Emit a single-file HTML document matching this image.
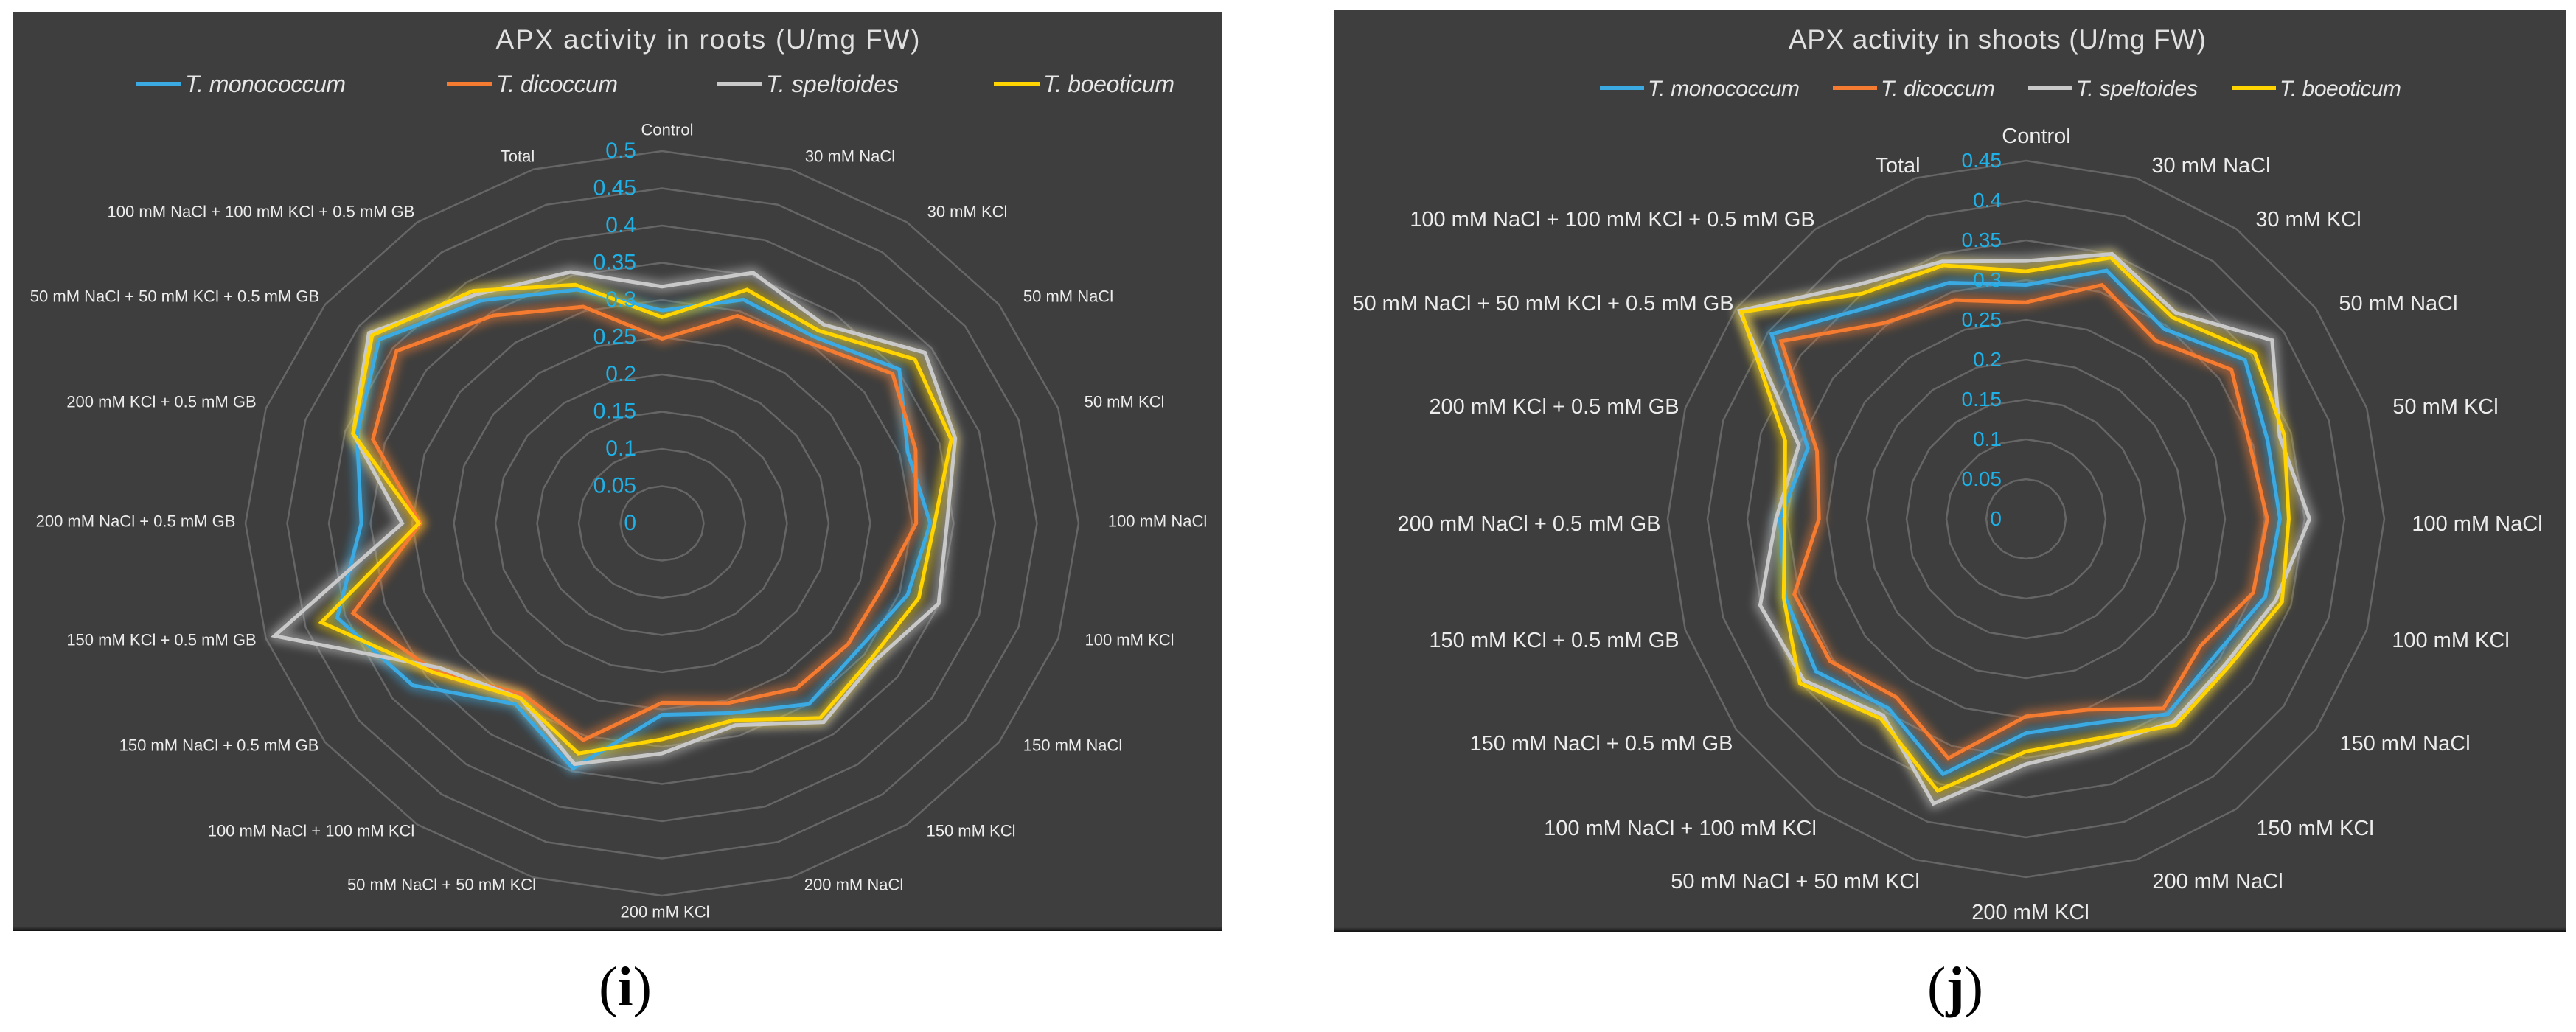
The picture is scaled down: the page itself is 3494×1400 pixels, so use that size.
<!DOCTYPE html>
<html><head><meta charset="utf-8"><style>
html,body{margin:0;padding:0;background:#fff;}
svg{display:block;font-family:"Liberation Sans",sans-serif;}
</style></head><body>
<svg id="root" width="3494" height="1400" viewBox="0 0 3494 1400" xmlns="http://www.w3.org/2000/svg">
<defs>
<filter id="glow" x="-20%" y="-20%" width="140%" height="140%"><feGaussianBlur stdDeviation="6"/></filter>
<linearGradient id="shadowB" x1="0" y1="0" x2="0" y2="1"><stop offset="0" stop-color="#3d3d3d"/><stop offset="1" stop-color="#111"/></linearGradient>
</defs>
<g>
<rect x="18" y="16" width="1640" height="1247" fill="#3e3e3e"/>
<rect x="18" y="1257" width="1640" height="6" fill="url(#shadowB)"/>
<text x="960" y="66" text-anchor="middle" font-size="37" fill="#e0e0e0" textLength="575">APX activity in roots (U/mg FW)</text>
<g id="legL"></g>
<g id="chartL"></g>
<text x="848" y="1364" text-anchor="middle" font-size="76" font-family="Liberation Serif, serif" fill="#000">(<tspan font-weight="bold">i</tspan>)</text>
</g>
<g>
<rect x="1809" y="14" width="1672" height="1250" fill="#3e3e3e"/>
<rect x="1809" y="1258" width="1672" height="6" fill="url(#shadowB)"/>
<text x="2709" y="66" text-anchor="middle" font-size="37" fill="#e0e0e0" textLength="566">APX activity in shoots (U/mg FW)</text>
<g id="legR"></g>
<g id="chartR"></g>
<text x="2652" y="1364" text-anchor="middle" font-size="76" font-family="Liberation Serif, serif" fill="#000">(<tspan font-weight="bold">j</tspan>)</text>
</g>
</svg>
<script>
const categories = ["Control","30 mM NaCl","30 mM KCl","50 mM NaCl","50 mM KCl","100 mM NaCl","100 mM KCl","150 mM NaCl","150 mM KCl","200 mM NaCl","200 mM KCl","50 mM NaCl + 50 mM KCl","100 mM NaCl + 100 mM KCl","150 mM NaCl + 0.5 mM GB","150 mM KCl + 0.5 mM GB","200 mM NaCl + 0.5 mM GB","200 mM KCl + 0.5 mM GB","50 mM NaCl + 50 mM KCl + 0.5 mM GB","100 mM NaCl + 100 mM KCl + 0.5 mM GB","Total"];
const seriesNames = ["T. monococcum","T. dicoccum","T. speltoides","T. boeoticum"];
const seriesColors = ["#3ba9e2","#f47b30","#c9c9c9","#ffd400"];
// Roots (i)
const rootsMonococcum = [0.286,0.316,0.31,0.352,0.31,0.322,0.31,0.29,0.30,0.268,0.257,0.346,0.30,0.37,0.41,0.361,0.385,0.42,0.37,0.33];
const rootsDicoccum   = [0.248,0.293,0.30,0.342,0.32,0.305,0.278,0.276,0.274,0.254,0.241,0.306,0.284,0.338,0.39,0.29,0.365,0.394,0.345,0.306];
const rootsSpeltoides = [0.318,0.354,0.33,0.39,0.37,0.342,0.349,0.315,0.33,0.285,0.309,0.34,0.29,0.33,0.489,0.312,0.39,0.435,0.38,0.355];
const rootsBoeoticum  = [0.277,0.33,0.32,0.375,0.365,0.327,0.324,0.31,0.323,0.278,0.29,0.325,0.29,0.34,0.43,0.292,0.39,0.43,0.386,0.337];
const rootsTicks = ["0","0.05","0.1","0.15","0.2","0.25","0.3","0.35","0.4","0.45","0.5"];
// Shoots (j)
const shootsMonococcum = [0.294,0.328,0.295,0.34,0.319,0.319,0.316,0.293,0.303,0.27,0.269,0.337,0.294,0.326,0.318,0.309,0.288,0.395,0.33,0.312];
const shootsDicoccum   = [0.272,0.309,0.277,0.319,0.296,0.303,0.30,0.271,0.294,0.252,0.248,0.316,0.277,0.304,0.306,0.26,0.276,0.38,0.304,0.289];
const shootsSpeltoides = [0.324,0.35,0.32,0.382,0.335,0.356,0.33,0.31,0.315,0.30,0.308,0.376,0.305,0.345,0.351,0.314,0.30,0.445,0.363,0.34];
const shootsBoeoticum  = [0.311,0.345,0.313,0.355,0.341,0.33,0.338,0.315,0.32,0.29,0.292,0.359,0.31,0.351,0.32,0.303,0.318,0.442,0.35,0.335];
const shootsTicks = ["0","0.05","0.1","0.15","0.2","0.25","0.3","0.35","0.4","0.45"];

const NS="http://www.w3.org/2000/svg";
function mk(tag,attrs,parent){const e=document.createElementNS(NS,tag);for(const k in attrs)e.setAttribute(k,attrs[k]);parent.appendChild(e);return e;}

function drawLegend(g,cfg){
  seriesNames.forEach((n,i)=>{
    const x=cfg.xs[i];
    const ln=mk('line',{x1:x,y1:cfg.y,x2:x+cfg.lw,y2:cfg.y,stroke:seriesColors[i],'stroke-width':6},g);
    
    
    const t=mk('text',{x:x+cfg.lw+5,y:cfg.y+11,'font-size':cfg.fs,'font-style':'italic',fill:'#e6e6e6',textLength:cfg.tw[i]},g);
    t.textContent=n;
    
    
  });
}

function drawRadar(g,cfg){
  const N=categories.length, maxV=cfg.max;
  const px=(v,i)=>cfg.cx+cfg.rx*(v/maxV)*Math.sin(i*2*Math.PI/N);
  const py=(v,i)=>cfg.cy-cfg.ry*(v/maxV)*Math.cos(i*2*Math.PI/N);
  cfg.ticks.forEach((tk,k)=>{
    const v=parseFloat(tk);
    if(v>0){
      const pts=categories.map((c,i)=>px(v,i)+','+py(v,i)).join(' ');
      const pg=mk('polygon',{points:pts,fill:'none',stroke:'#666','stroke-width':2.5},g);
      
      
    }
  });
  cfg.series.forEach((vals,s)=>{
    const pts=vals.map((v,i)=>px(v,i)+','+py(v,i)).join(' ');
    const gl=mk('polygon',{points:pts,fill:'none',stroke:seriesColors[s],'stroke-width':16,'stroke-opacity':0.5,filter:'url(#glow)','stroke-linejoin':'round'},g);
    
    
  });
  cfg.series.forEach((vals,s)=>{
    const pts=vals.map((v,i)=>px(v,i)+','+py(v,i)).join(' ');
    const pl=mk('polygon',{points:pts,fill:'none',stroke:seriesColors[s],'stroke-width':5,'stroke-linejoin':'miter'},g);
    
    
  });
  cfg.ticks.forEach((tk)=>{
    const v=parseFloat(tk);
    const t=mk('text',{x:cfg.cx-cfg.tickOff,y:py(v,0)+9,'text-anchor':'end','font-size':cfg.tfs,fill:'#1fb0e6'},g);
    t.textContent=tk;
    
    
  });
  categories.forEach((c,i)=>{
    const p=cfg.labelPos[i];
    const t=mk('text',{x:p[0],y:p[1]+cfg.lfs*0.35,'text-anchor':'middle','font-size':cfg.lfs,fill:'#ececec'},g);
    t.textContent=c;
    
    
  });
}

const labelPosL=[[905,176],[1153,212],[1312,287],[1449,402],[1525,545],[1570,707],[1532,868],[1455,1011],[1317,1127],[1158,1200],[902,1237],[599,1200],[422,1127],[297,1011],[219,868],[184,707],[219,545],[237,402],[354,287],[702,212]];
const labelPosR=[[2762,184],[2999,224],[3131,297],[3253,411],[3317,551],[3360,710],[3324,868],[3262,1008],[3140,1123],[3008,1195],[2754,1237],[2435,1195],[2279,1123],[2172,1008],[2108,868],[2074,710],[2108,551],[2093,411],[2187,297],[2574,224]];

drawLegend(document.getElementById('legL'),{y:114,lw:62,fs:32,xs:[184,606,972,1348],tw:[218,165,180,178]});
drawLegend(document.getElementById('legR'),{y:119,lw:60,fs:30,xs:[2170,2486,2751,3027],tw:[206,155,165,165]});
drawRadar(document.getElementById('chartL'),{cx:898,cy:710,rx:565,ry:505,max:0.5,ticks:rootsTicks,tickOff:35,tfs:30,lfs:22,labelPos:labelPosL,
  series:[rootsMonococcum,rootsDicoccum,rootsSpeltoides,rootsBoeoticum]});
drawRadar(document.getElementById('chartR'),{cx:2748,cy:704,rx:486,ry:486,max:0.45,ticks:shootsTicks,tickOff:33,tfs:28,lfs:29,labelPos:labelPosR,
  series:[shootsMonococcum,shootsDicoccum,shootsSpeltoides,shootsBoeoticum]});
</script>
</body></html>
